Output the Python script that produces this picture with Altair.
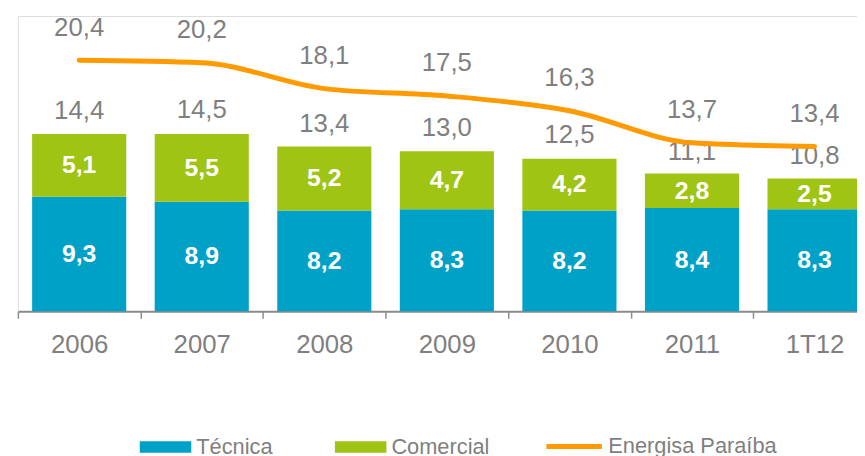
import altair as alt
import pandas as pd

categories = ["2006", "2007", "2008", "2009", "2010", "2011", "1T12"]
tecnica = [9.3, 8.9, 8.2, 8.3, 8.2, 8.4, 8.3]
comercial = [5.1, 5.5, 5.2, 4.7, 4.2, 2.8, 2.5]
totais = [14.4, 14.5, 13.4, 13.0, 12.5, 11.1, 10.8]
energisa = [20.4, 20.2, 18.1, 17.5, 16.3, 13.7, 13.4]

series_names = ["Técnica", "Comercial"]
series_colors = ["#00A1C6", "#A0C414"]
line_name = "Energisa Paraíba"
line_color = "#FF9A00"
gray = "#7F7F7F"
FONT = "Liberation Sans"


def fmt(v):
    return f"{v:.1f}".replace(".", ",")


rows = []
for i, c in enumerate(categories):
    rows.append({"cat": c, "serie": "Técnica", "ord": 0, "value": tecnica[i], "label": fmt(tecnica[i])})
    rows.append({"cat": c, "serie": "Comercial", "ord": 1, "value": comercial[i], "label": fmt(comercial[i])})
bars_df = pd.DataFrame(rows)

tot_df = pd.DataFrame({"cat": categories, "total": totais, "label": [fmt(v) for v in totais]})
line_df = pd.DataFrame({"cat": categories, "v": energisa, "label": [fmt(v) for v in energisa],
                        "serie": [line_name] * len(categories)})

xscale = alt.Scale(domain=categories, range=[0, 866], paddingInner=0, paddingOuter=0)
yscale = alt.Scale(domain=[0, 24], nice=False)

x_enc = alt.X("cat:N", scale=xscale, sort=categories,
              axis=alt.Axis(title=None, labelAngle=0, labelFontSize=26, labelColor=gray, labelFont=FONT,
                            tickBand="extent", tickSize=7, tickColor="#8C8C8C", tickWidth=1.5,
                            domainColor="#8C8C8C", domainWidth=2, labelPadding=14, grid=False))

bars = alt.Chart(bars_df).mark_bar(width=95).encode(
    x=x_enc,
    y=alt.Y("value:Q", scale=yscale, axis=None, stack="zero"),
    color=alt.Color("serie:N", scale=alt.Scale(domain=series_names, range=series_colors),
                    legend=alt.Legend(title=None, orient="none", legendX=123, legendY=409,
                                      direction="horizontal", symbolType="M-1,-0.22H1V0.22H-1Z",
                                      symbolSize=2704, labelFontSize=22, labelColor=gray, labelFont=FONT,
                                      labelOffset=5, columnPadding=62, symbolStrokeWidth=0, padding=0,
                                      labelLimit=400)),
    order=alt.Order("ord:Q"),
)

seg_text = alt.Chart(bars_df).transform_stack(
    stack="value", groupby=["cat"], as_=["y0", "y1"], sort=[alt.SortField("ord", order="ascending")]
).transform_calculate(mid="(datum.y0 + datum.y1) / 2").mark_text(
    font=FONT, fontSize=25, fontWeight="bold", color="white", baseline="middle"
).encode(
    x=alt.X("cat:N", scale=xscale, sort=categories),
    y=alt.Y("mid:Q", scale=yscale),
    text="label:N",
)

tot_text = alt.Chart(tot_df).mark_text(
    font=FONT, fontSize=26, color=gray, baseline="middle", dy=-23
).encode(
    x=alt.X("cat:N", scale=xscale, sort=categories),
    y=alt.Y("total:Q", scale=yscale),
    text="label:N",
)

line = alt.Chart(line_df).mark_line(interpolate="monotone", strokeWidth=5, strokeCap="round").encode(
    x=alt.X("cat:N", scale=xscale, sort=categories),
    y=alt.Y("v:Q", scale=yscale),
    stroke=alt.Stroke("serie:N", scale=alt.Scale(domain=[line_name], range=[line_color]),
                      legend=alt.Legend(title=None, orient="none", legendX=531, legendY=404,
                                        symbolType="stroke", symbolSize=3136, symbolStrokeWidth=5,
                                        labelFontSize=22, labelColor=gray, labelFont=FONT,
                                        labelOffset=4, padding=0, labelLimit=400)),
)

line_text = alt.Chart(line_df).mark_text(
    font=FONT, fontSize=26, color=gray, baseline="middle", dy=-33
).encode(
    x=alt.X("cat:N", scale=xscale, sort=categories),
    y=alt.Y("v:Q", scale=yscale),
    text="label:N",
)

chart = alt.layer(bars, seg_text, tot_text, line, line_text).resolve_scale(
    color="independent", stroke="independent"
).properties(
    width=847, height=298,
    autosize=alt.AutoSizeParams(type="none"),
    padding={"left": 10, "top": 6, "right": 0, "bottom": 144},
).configure_view(stroke=None).configure(font=FONT)

chart.save("out.html", embed_options={"renderer": "svg", "actions": False})
